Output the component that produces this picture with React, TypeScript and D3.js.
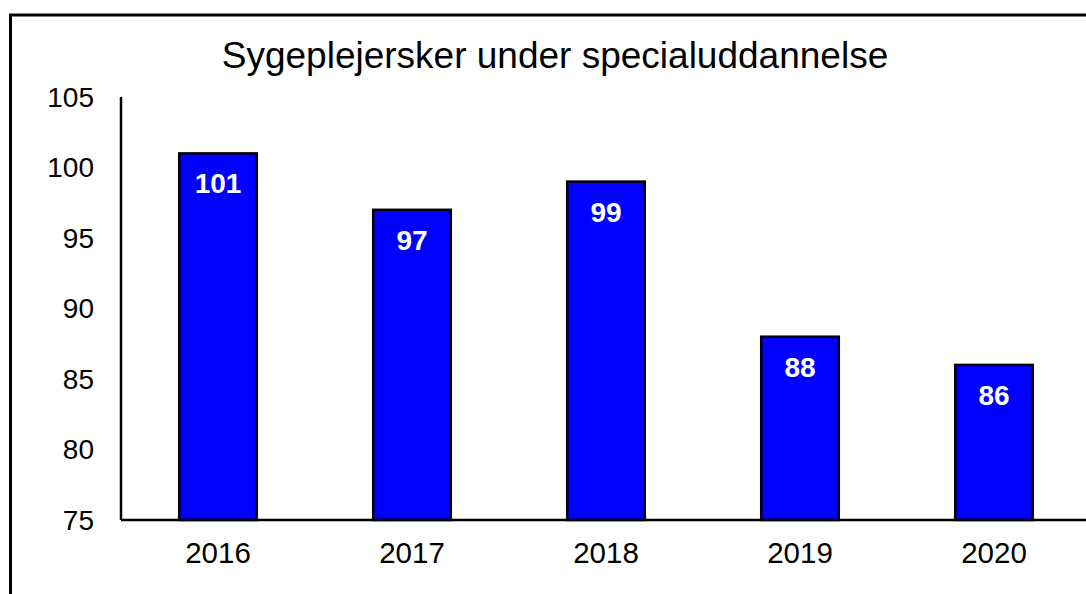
import React from 'react';
import * as d3 from 'd3';

const years = ['2016', '2017', '2018', '2019', '2020'];
const values = [101, 97, 99, 88, 86];
const yTicks = [75, 80, 85, 90, 95, 100, 105];
const title = 'Sygeplejersker under specialuddannelse';

export default function App() {
  const width = 1086;
  const height = 594;
  const plot = { left: 121, right: 1091, top: 97, bottom: 520 };
  const font = '"Liberation Sans", Arial, sans-serif';

  const xScale = d3.scaleBand<string>()
    .domain(years)
    .range([plot.left, plot.right])
    .paddingInner(0.6)
    .paddingOuter(0.3);

  const yScale = d3.scaleLinear()
    .domain([75, 105])
    .range([plot.bottom, plot.top]);

  return (
    <svg width={width} height={height}
      style={{ position: 'absolute', left: 0, top: 0, background: '#fff' }}
      fontFamily={font}>
      {/* outer frame, runs past the right and bottom edge */}
      <rect x={10.5} y={15} width={1200} height={800} fill="none" stroke="#000" strokeWidth={3} />

      <text x={555} y={68} textAnchor="middle" fontSize={37} fill="#000">{title}</text>

      {/* bars */}
      {values.map((v, i) => (
        <rect key={years[i]}
          x={xScale(years[i])}
          y={yScale(v)}
          width={xScale.bandwidth()}
          height={yScale(75) - yScale(v)}
          fill="#0000FF" stroke="#000" strokeWidth={2.5} />
      ))}

      {/* value labels */}
      {values.map((v, i) => (
        <text key={'l' + years[i]}
          x={(xScale(years[i]) as number) + xScale.bandwidth() / 2}
          y={yScale(v) + 40}
          textAnchor="middle" fontSize={28} fontWeight="bold" fill="#fff">{v}</text>
      ))}

      {/* axes */}
      <line x1={plot.left} x2={plot.left} y1={yScale(105)} y2={yScale(75)} stroke="#000" strokeWidth={2.5} />
      <line x1={plot.left} x2={width} y1={yScale(75)} y2={yScale(75)} stroke="#000" strokeWidth={2.5} />

      {yTicks.map(t => (
        <text key={t} x={94} y={yScale(t)} dy="0.35em" textAnchor="end" fontSize={28} fill="#000">{t}</text>
      ))}

      {years.map(y => (
        <text key={'x' + y}
          x={(xScale(y) as number) + xScale.bandwidth() / 2}
          y={563} textAnchor="middle" fontSize={29.5} fill="#000">{y}</text>
      ))}
    </svg>
  );
}
